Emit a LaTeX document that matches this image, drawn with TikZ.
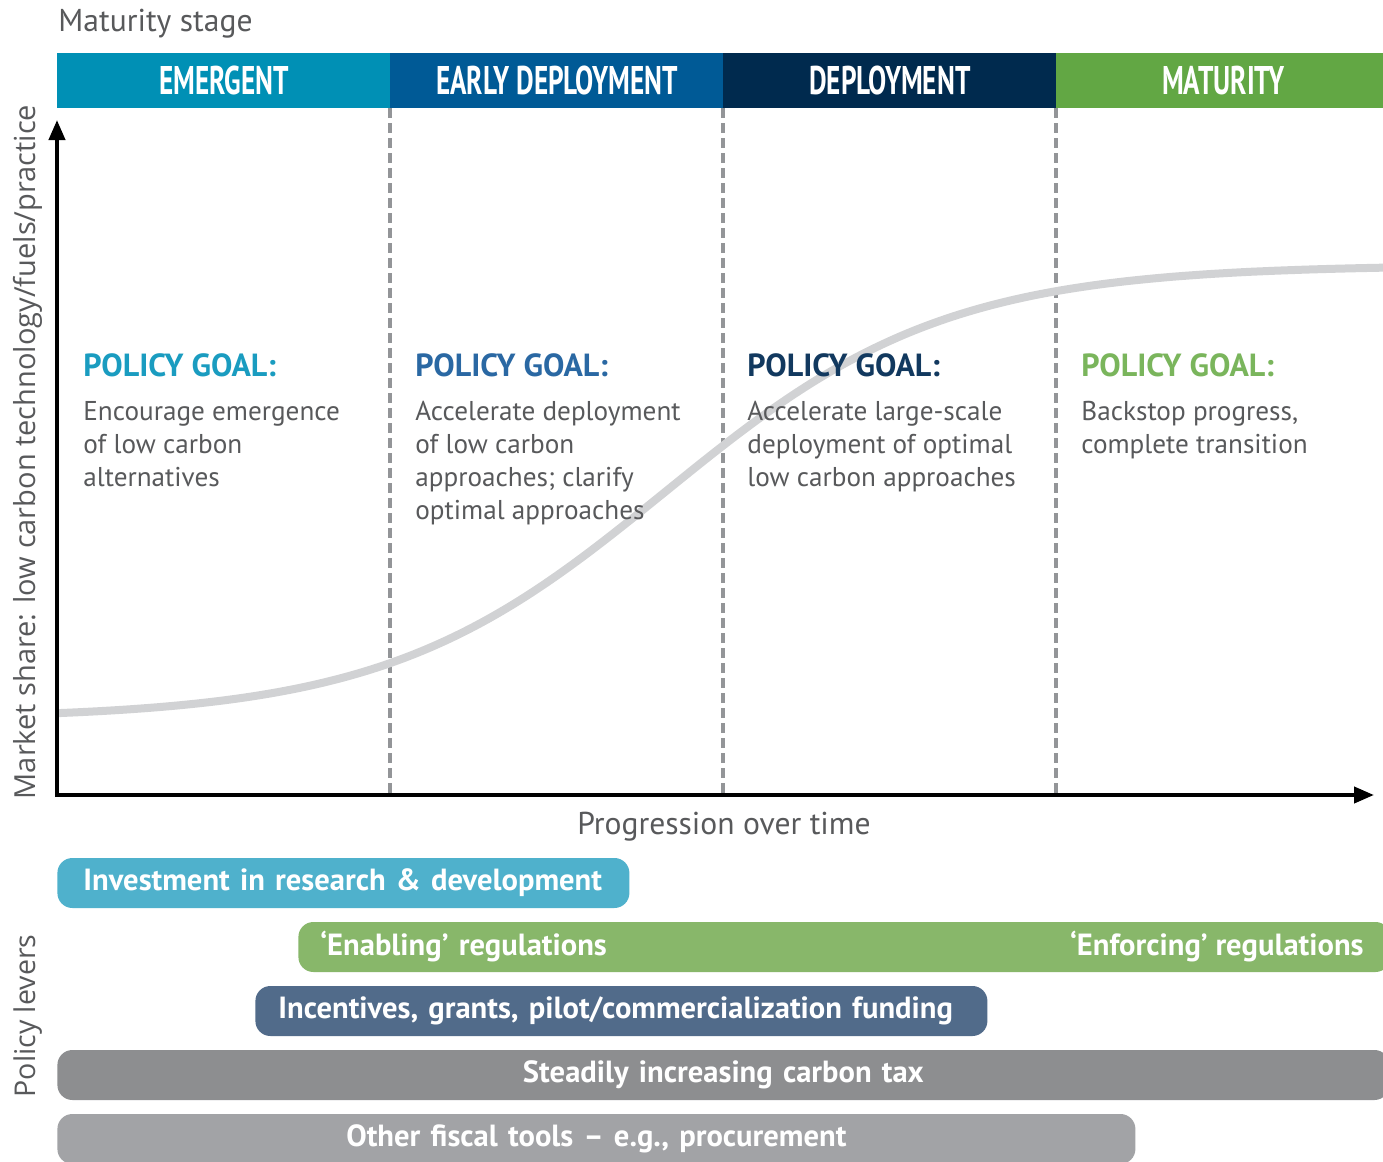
\documentclass[tikz,border=0pt]{standalone}
\usepackage{fontspec}
\setmainfont{PT Sans}
\newfontfamily\condfont[FakeStretch=0.68]{PT Sans}
\newfontfamily\opensans{Open Sans}
\usetikzlibrary{arrows.meta}
\definecolor{cEm}{HTML}{0090B5}
\definecolor{cEarly}{HTML}{005A96}
\definecolor{cDep}{HTML}{002A4E}
\definecolor{cMat}{HTML}{62A744}
\definecolor{gEm}{HTML}{1A9CC0}
\definecolor{gEarly}{HTML}{2A68A3}
\definecolor{gDep}{HTML}{12395F}
\definecolor{gMat}{HTML}{7AB55C}
\definecolor{txt}{HTML}{58595B}
\definecolor{dashc}{HTML}{939598}
\definecolor{curvec}{HTML}{D1D2D4}
\definecolor{bRD}{HTML}{4FB1CC}
\definecolor{bReg}{HTML}{88B76A}
\definecolor{bInc}{HTML}{516B8A}
\definecolor{bTax}{HTML}{8D8E90}
\definecolor{bFis}{HTML}{A2A3A6}
\tikzset{
  hdr/.style={anchor=north west, inner sep=0pt, minimum height=27.5pt, text=white,
    font=\condfont\bfseries\fontsize{20}{20}\selectfont},
  goal/.style={anchor=base west, inner sep=0pt, font=\bfseries\fontsize{16}{16}\selectfont},
  body/.style={anchor=base west, inner sep=0pt, align=left, text=txt,
    font=\fontsize{13.6}{16.5}\selectfont},
  bar/.style={anchor=west, rounded corners=7.5pt, minimum height=25pt, inner ysep=0pt,
    text=white, font=\bfseries\fontsize{15.3}{15.3}\selectfont},
  divider/.style={dashc, line width=2.4pt, dash pattern=on 5pt off 2.5pt},
  axis/.style={black, line width=2pt, -{Triangle[length=10pt,width=8pt]}},
  side/.style={rotate=90, text=txt, font=\opensans\fontsize{14.5}{14.5}\selectfont},
}
\begin{document}
\begin{tikzpicture}[x=0.5pt,y=-0.5pt]
\useasboundingbox (0,0) rectangle (1383,1162);
\clip (0,0) rectangle (1383,1162);
\fill[white] (0,0) rectangle (1383,1162);

% title
\node[anchor=west, inner sep=0pt, text=txt, font=\fontsize{15.8}{15.8}\selectfont] (title) at (58,24) {Maturity stage};

% header bands
\node[hdr, fill=cEm, minimum width=166.5pt] (hEm) at (57,53) {EMERGENT};
\node[hdr, fill=cEarly, minimum width=166.5pt] (hEarly) at (390,53) {EARLY DEPLOYMENT};
\node[hdr, fill=cDep, minimum width=166.5pt] (hDep) at (723,53) {DEPLOYMENT};
\node[hdr, fill=cMat, minimum width=167pt] (hMat) at (1056,53) {MATURITY};

% dividers
\coordinate (d1t) at (390,108); \coordinate (d1b) at (390,795);
\coordinate (d2t) at (723,108); \coordinate (d2b) at (723,795);
\coordinate (d3t) at (1056,108); \coordinate (d3b) at (1056,795);
\draw[divider] (d1t) -- (d1b);
\draw[divider] (d2t) -- (d2b);
\draw[divider] (d3t) -- (d3b);

% S-curve
\draw[curvec, line width=4pt] plot[domain=57:1383, samples=120, smooth]
  (\x, {719-454/(1+exp(-(\x-665)/140))});

% axes
\coordinate (O) at (57,795);
\coordinate (Ytop) at (57,120);
\coordinate (Xend) at (1374,795);
\coordinate (Ybot) at (57,797);
\coordinate (Xstart) at (55,795);
\draw[axis] (Ybot) -- (Ytop);
\draw[axis] (Xstart) -- (Xend);

% axis labels
\node[side] (ylab) at (28,452) {Market share: low carbon technology/fuels/practice};
\node[text=txt, font=\fontsize{15.8}{15.8}\selectfont] (xlab) at (724,827) {Progression over time};
\node[side, font=\opensans\fontsize{14.3}{14.3}\selectfont] (plab) at (28,1016) {Policy levers};

% policy goals
\node[goal, text=gEm] (g1) at (83,376) {POLICY GOAL:};
\node[goal, text=gEarly] (g2) at (415,376) {POLICY GOAL:};
\node[goal, text=gDep] (g3) at (747,376) {POLICY GOAL:};
\node[goal, text=gMat] (g4) at (1081,376) {POLICY GOAL:};

% (base anchor = baseline of the last line)
\node[body] (t1) at (83,486) {Encourage emergence\\of low carbon\\alternatives};
\node[body] (t2) at (415,519) {Accelerate deployment\\of low carbon\\approaches; clarify\\optimal approaches};
\node[body] (t3) at (747,486) {Accelerate large-scale\\deployment of optimal\\low carbon approaches};
\node[body] (t4) at (1081,453) {Backstop progress,\\complete transition};

% policy lever bars
\node[bar, fill=bRD, minimum width=286pt, text width=260pt, align=left] (rd) at (57,883) {Investment in research \& development};
\node[bar, fill=bReg, minimum width=546pt, text width=524pt, align=left] (reg) at (298,947) {‘Enabling’ regulations};
\node[anchor=east, inner sep=0pt, text=white, font=\bfseries\fontsize{15.3}{15.3}\selectfont] (enf) at (1364,947) {‘Enforcing’ regulations};
\node[bar, fill=bInc, minimum width=366pt, text width=343pt, align=left] (inc) at (255,1011) {Incentives, grants, pilot/commercialization funding};
\node[bar, fill=bTax, minimum width=666pt, text width=640pt, align=center] (tax) at (57,1075) {Steadily increasing carbon tax};
\node[bar, fill=bFis, minimum width=539pt, text width=520pt, align=center] (fis) at (57,1139) {Other fiscal tools -- e.g., procurement};
\end{tikzpicture}
\end{document}
